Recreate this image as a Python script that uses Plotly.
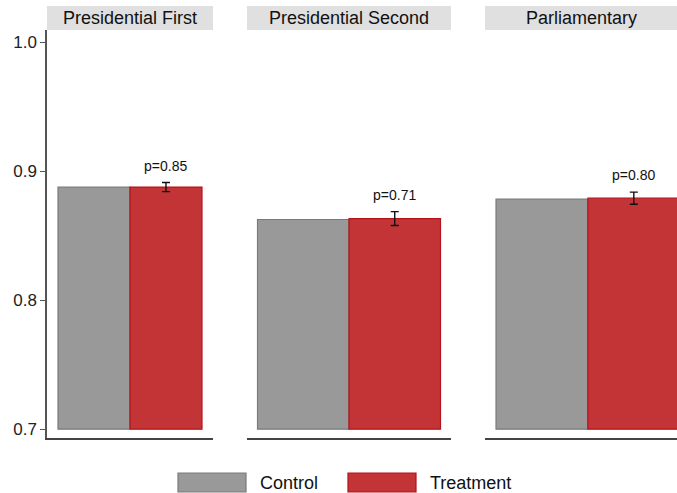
import plotly.graph_objects as go

panels = ["Presidential First", "Presidential Second", "Parliamentary"]
groups = ["Control", "Treatment"]
control_vals = [0.8875, 0.8625, 0.8782]
treatment_vals = [0.8876, 0.8632, 0.8790]
treatment_err = [0.0035, 0.0054, 0.0047]
p_labels = ["p=0.85", "p=0.71", "p=0.80"]
y_ticks = [0.7, 0.8, 0.9, 1.0]
y_tick_text = ["0.7", "0.8", "0.9", "1.0"]

GRAY = "#999999"
GRAY_EDGE = "#7a7a7a"
RED = "#c23435"
RED_EDGE = "#b5121b"
FONT = "Liberation Sans, Arial, sans-serif"

fig = go.Figure()

domains = [[0, 166 / 630], [200 / 630, 404 / 630], [438 / 630, 1.0]]
xranges = [[-1.153, 1.153], [-1.115, 1.115], [-1.12, 0.97]]
BASE = 0.7

for i, name in enumerate(panels):
    xa = "x" if i == 0 else f"x{i+1}"
    ya = "y" if i == 0 else f"y{i+1}"
    fig.add_trace(go.Bar(
        x=[-0.5], y=[control_vals[i] - BASE], base=BASE, width=1.0,
        marker=dict(color=GRAY, line=dict(color=GRAY_EDGE, width=1.2)),
        xaxis=xa, yaxis=ya, showlegend=False, name=groups[0]))
    fig.add_trace(go.Bar(
        x=[0.5], y=[treatment_vals[i] - BASE], base=BASE, width=1.0,
        marker=dict(color=RED, line=dict(color=RED_EDGE, width=1.2)),
        xaxis=xa, yaxis=ya, showlegend=False, name=groups[1]))
    fig.add_trace(go.Scatter(
        x=[0.5], y=[treatment_vals[i]], mode="markers",
        marker=dict(size=0.1, color="rgba(0,0,0,0)"),
        error_y=dict(type="data", array=[treatment_err[i]], color="#111111",
                     thickness=1.4, width=4),
        xaxis=xa, yaxis=ya, showlegend=False, hoverinfo="skip"))
    fig.add_annotation(
        x=0.5, y=treatment_vals[i] + treatment_err[i], xref=xa, yref=ya,
        text=p_labels[i], showarrow=False, yanchor="middle", yshift=17,
        font=dict(size=14, color="#111111", family=FONT))
    # facet strip
    xd = "x domain" if i == 0 else f"x{i+1} domain"
    fig.add_shape(type="rect", xref=xd, yref="paper", x0=0, x1=1,
                  y0=1.0, y1=1.0588, fillcolor="#e0e0e0", line=dict(width=0),
                  layer="below")
    fig.add_annotation(x=0.5, y=1.0294, xref=xd, yref="paper", text=name,
                       showarrow=False, yanchor="middle",
                       font=dict(size=18, color="#111111", family=FONT))

    xaxis_cfg = dict(domain=domains[i], range=xranges[i], showticklabels=False,
                     ticks="", showgrid=False, zeroline=False, showline=True,
                     linecolor="#444444", linewidth=1.5, anchor=ya)
    yaxis_cfg = dict(range=[0.6932, 1.0093], showgrid=False, zeroline=False,
                     anchor=xa)
    if i == 0:
        yaxis_cfg.update(showline=True, linecolor="#555555", linewidth=1.5,
                         ticks="outside", ticklen=5, tickcolor="#555555",
                         tickvals=y_ticks, ticktext=y_tick_text,
                         tickfont=dict(size=17, color="#222222", family=FONT))
    else:
        yaxis_cfg.update(showline=False, showticklabels=False, ticks="",
                         matches="y")
    key = "" if i == 0 else str(i + 1)
    fig.layout["xaxis" + key] = xaxis_cfg
    fig.layout["yaxis" + key] = yaxis_cfg

# legend drawn as swatches + labels below plot
def px_x(p):
    return (p - 47) / 630

def px_y(p):
    return (438 - p) / 408

legend_items = [(groups[0], GRAY, GRAY_EDGE, 178, 246, 258),
                (groups[1], RED, RED_EDGE, 348, 416, 428)]
for label, fill, edge, x0, x1, tx in legend_items:
    fig.add_shape(type="rect", xref="paper", yref="paper",
                  x0=px_x(x0), x1=px_x(x1), y0=px_y(492), y1=px_y(473),
                  fillcolor=fill, line=dict(color=edge, width=1.2))
    fig.add_annotation(x=px_x(tx), y=px_y(482.5), xref="paper", yref="paper",
                       text=label, showarrow=False, xanchor="left",
                       yanchor="middle",
                       font=dict(size=18, color="#111111", family=FONT))

fig.update_layout(
    width=677, height=493,
    margin=dict(l=47, r=0, t=30, b=55),
    paper_bgcolor="white", plot_bgcolor="white",
    showlegend=False, barmode="overlay",
    font=dict(family=FONT),
)

fig.write_html("out.html", config={"displayModeBar": False},
               post_script="document.body.style.margin='0';document.body.style.overflow='hidden';")
